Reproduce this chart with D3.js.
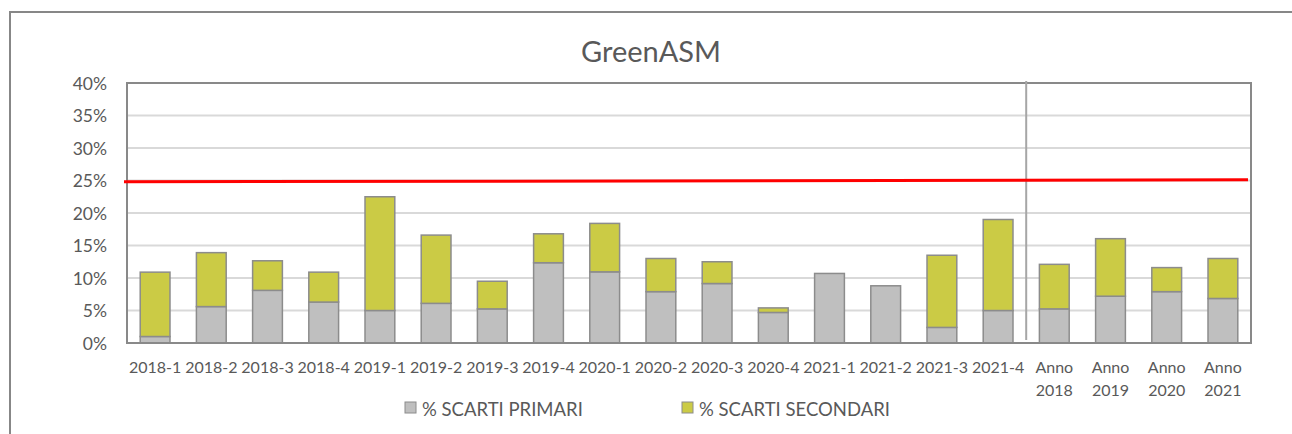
<!DOCTYPE html>
<html>
<head>
<meta charset="utf-8">
<script src="https://cdn.jsdelivr.net/npm/d3@7"></script>
<style>
  body { margin: 0; background: #fff; }
  svg text { font-family: Lato, "Open Sans", sans-serif; fill: #595959; }
</style>
</head>
<body>
<div id="chart"></div>
<script>
// categories (quarters + yearly totals)
let categories = ["2018-1","2018-2","2018-3","2018-4","2019-1","2019-2","2019-3","2019-4",
  "2020-1","2020-2","2020-3","2020-4","2021-1","2021-2","2021-3","2021-4",
  "Anno 2018","Anno 2019","Anno 2020","Anno 2021"];
// % scarti primari
let primari = [0.010,0.056,0.081,0.063,0.050,0.061,0.0525,0.1235,
  0.1095,0.079,0.0915,0.047,0.107,0.088,0.024,0.050,
  0.0525,0.072,0.079,0.0685];
// % scarti secondari (stacked on top)
let secondari = [0.099,0.083,0.0455,0.046,0.175,0.105,0.0425,0.0445,
  0.0745,0.051,0.0335,0.007,0.000,0.000,0.111,0.140,
  0.0685,0.0885,0.037,0.0615];
// red threshold line (start, end)
let soglia = [0.248, 0.251];
let yTicks = [0,0.05,0.10,0.15,0.20,0.25,0.30,0.35,0.40];
let seriesNames = ["% SCARTI PRIMARI", "% SCARTI SECONDARI"];
let colors = ["#bfbfbf", "#cbcb45"];

let width = 1292, height = 434;
let margin = {top: 83, right: 41, bottom: 91, left: 127};

let svg = d3.select("#chart").append("svg")
  .attr("width", width)
  .attr("height", height);

// outer chart frame
svg.append("rect")
  .attr("x", 10).attr("y", 12)
  .attr("width", 1300).attr("height", 440)
  .attr("fill", "none")
  .attr("stroke", "#878787")
  .attr("stroke-width", 2);

// title
svg.append("text")
  .attr("x", 651).attr("y", 62)
  .attr("text-anchor", "middle")
  .style("font-size", "29px")
  .text("GreenASM");

let x = d3.scaleBand()
  .domain(categories)
  .range([margin.left, width - margin.right])
  .paddingInner(0.47)
  .paddingOuter(0.235);

let y = d3.scaleLinear()
  .domain([0, 0.4])
  .range([height - margin.bottom, margin.top]);

// gridlines
svg.append("g")
  .selectAll("line")
  .data(yTicks.slice(1, -1))
  .enter().append("line")
  .attr("x1", margin.left).attr("x2", width - margin.right)
  .attr("y1", d => y(d)).attr("y2", d => y(d))
  .attr("stroke", "#d9d9d9")
  .attr("stroke-width", 2);

// stacked data
let stackData = categories.map((c, i) => ({cat: c, p: primari[i], s: secondari[i]}));
let stack = d3.stack().keys(["p", "s"])(stackData);

svg.append("g")
  .selectAll("g")
  .data(stack)
  .enter().append("g")
  .attr("fill", (d, i) => colors[i])
  .selectAll("rect")
  .data(d => d.filter(v => v[1] - v[0] > 0))
  .enter().append("rect")
  .attr("x", d => x(d.data.cat))
  .attr("width", x.bandwidth())
  .attr("y", d => y(d[1]))
  .attr("height", d => y(d[0]) - y(d[1]))
  .attr("stroke", "#8c8c8c")
  .attr("stroke-width", 1.5);

// plot area border
svg.append("rect")
  .attr("x", margin.left).attr("y", margin.top)
  .attr("width", width - margin.right - margin.left)
  .attr("height", height - margin.bottom - margin.top)
  .attr("fill", "none")
  .attr("stroke", "#898989")
  .attr("stroke-width", 2);

// separator between quarters and yearly totals
let sepX = x("Anno 2018") - x.step() * x.paddingInner() / 2;
svg.append("line")
  .attr("x1", sepX).attr("x2", sepX)
  .attr("y1", margin.top - 2).attr("y2", y(0) - 3)
  .attr("stroke", "#a6a6a6")
  .attr("stroke-width", 2);

// threshold line
svg.append("line")
  .attr("x1", margin.left - 3).attr("x2", width - margin.right - 3)
  .attr("y1", y(soglia[0])).attr("y2", y(soglia[1]))
  .attr("stroke", "#ff0000")
  .attr("stroke-width", 3);

// y axis
let yAxis = svg.append("g")
  .attr("transform", "translate(" + margin.left + ",0)")
  .call(d3.axisLeft(y).tickValues(yTicks).tickFormat(d3.format(".0%")).tickSize(0).tickPadding(20));
yAxis.select(".domain").remove();
yAxis.selectAll("text").style("font-size", "17.5px").attr("dy", "0.36em");

// x axis
let xAxis = svg.append("g")
  .attr("transform", "translate(0," + y(0) + ")")
  .call(d3.axisBottom(x).tickSize(0).tickPadding(19));
xAxis.select(".domain").remove();
xAxis.selectAll("text")
  .style("font-size", "16px")
  .each(function(d) {
    let parts = d.split(" ");
    if (parts.length > 1) {
      let t = d3.select(this).text(null);
      t.append("tspan").attr("x", 0).attr("dy", "0.71em").text(parts[0]);
      t.append("tspan").attr("x", 0).attr("dy", "1.4em").text(parts[1]);
    }
  });

// legend
let legendX = [405, 682];
let legend = svg.append("g")
  .selectAll("g")
  .data(seriesNames)
  .enter().append("g")
  .attr("transform", (d, i) => "translate(" + legendX[i] + ",402)");
legend.append("rect")
  .attr("width", 11).attr("height", 11)
  .attr("fill", (d, i) => colors[i])
  .attr("stroke", "#8c8c8c")
  .attr("stroke-width", 1);
legend.append("text")
  .attr("x", 17).attr("y", 14)
  .style("font-size", "18.5px")
  .text(d => d);
</script>
</body>
</html>
